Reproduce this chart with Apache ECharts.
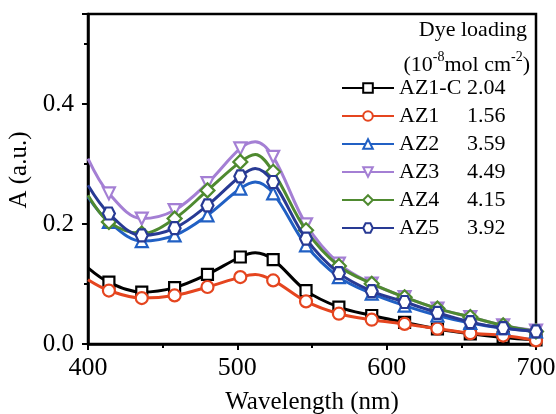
<!DOCTYPE html>
<html>
<head>
<meta charset="utf-8">
<script src="https://cdn.jsdelivr.net/npm/echarts@6/dist/echarts.min.js"></script>
<style>html,body{margin:0;padding:0;background:#fff}#c{width:556px;height:414px}</style>
</head>
<body>
<div id="c"></div>
<script>
var wavelengths = [400, 414, 436, 458, 480, 502, 512, 524, 546, 568, 590, 612, 634, 656, 678, 700];
var noMarkerAt = [400, 512];
var names = ['AZ1-C', 'AZ1', 'AZ2', 'AZ3', 'AZ4', 'AZ5'];
var loadings = ['2.04', '1.56', '3.59', '4.49', '4.15', '3.92'];
var az1c = [0.127, 0.103, 0.0865, 0.094, 0.116, 0.145, 0.152, 0.1405, 0.089, 0.0615, 0.0475, 0.036, 0.025, 0.017, 0.011, 0.007];
var az1  = [0.107, 0.089, 0.0765, 0.081, 0.095, 0.1115, 0.116, 0.106, 0.071, 0.0505, 0.0405, 0.0335, 0.0255, 0.018, 0.014, 0.006];
var az2  = [0.245, 0.2035, 0.1715, 0.181, 0.2145, 0.259, 0.270, 0.251, 0.1645, 0.1115, 0.084, 0.064, 0.0475, 0.035, 0.0265, 0.021];
var az3  = [0.309, 0.251, 0.209, 0.223, 0.268, 0.326, 0.337, 0.312, 0.1995, 0.134, 0.1005, 0.078, 0.059, 0.045, 0.031, 0.0225];
var az4  = [0.248, 0.2035, 0.184, 0.209, 0.256, 0.3035, 0.316, 0.287, 0.1895, 0.130, 0.1005, 0.078, 0.059, 0.045, 0.031, 0.021];
var az5  = [0.2645, 0.2175, 0.181, 0.193, 0.231, 0.2795, 0.2925, 0.270, 0.1755, 0.118, 0.088, 0.070, 0.052, 0.0365, 0.0265, 0.021];
var seriesValues = [az1c, az1, az2, az3, az4, az5];
var colors = ['#000000', '#e5451f', '#2160c4', '#a47fd4', '#4f8a30', '#283a94'];
var symbols = ['rect', 'circle', 'triangle',
  'path://M0,0 L10,0 L5,9 Z',
  'diamond',
  'path://M2.5,0 L7.5,0 L10,4.33 L7.5,8.66 L2.5,8.66 L0,4.33 Z'];
var symbolSizes = [11, 12, 12, 12, 14, 12];
var yTicks = [0, 0.2, 0.4];

var FONT = '"Liberation Serif", "Times New Roman", serif';

var series = names.map(function (n, i) {
  return {
    name: n,
    type: 'line',
    smooth: 0.35,
    symbol: symbols[i],
    symbolSize: symbolSizes[i],
    showAllSymbol: true,
    lineStyle: { color: colors[i], width: 3 },
    itemStyle: { color: '#fff', borderColor: colors[i], borderWidth: 2.2 },
    emphasis: { disabled: true },
    z: 2 + i,
    data: wavelengths.map(function (w, k) {
      var item = { value: [w, seriesValues[i][k]] };
      if (noMarkerAt.indexOf(w) >= 0) item.symbol = 'none';
      return item;
    })
  };
});

var chart = echarts.init(document.getElementById('c'), null, { renderer: 'canvas' });
chart.setOption({
  animation: false,
  backgroundColor: '#fff',
  textStyle: { fontFamily: FONT },
  grid: { left: 88, right: 20, top: 14, bottom: 70, containLabel: false, outerBoundsMode: 'none',
    show: true, borderColor: '#000', borderWidth: 2.5, backgroundColor: 'transparent' },
  title: [
    { text: 'Dye loading', right: 24, top: 14, textStyle: { fontFamily: FONT, fontSize: 22, fontWeight: 'normal', color: '#000' } },
    { text: '{n|(10}{s|-8}{n|mol cm}{s|-2}{n|)}', right: 21, top: 45,
      textStyle: { fontWeight: 'normal', rich: {
        n: { fontFamily: FONT, fontSize: 22, fontWeight: 'normal', color: '#000', lineHeight: 26, verticalAlign: 'bottom' },
        s: { fontFamily: FONT, fontSize: 14, fontWeight: 'normal', color: '#000', lineHeight: 26, verticalAlign: 'top', padding: [0, 0, 12, 0] }
      } } }
  ],
  legend: {
    orient: 'vertical', left: 336, top: 72, itemGap: 6,
    itemWidth: 52, itemHeight: 12,
    data: names,
    formatter: function (n) { return '{a|' + n + '}{b|' + loadings[names.indexOf(n)] + '}'; },
    textStyle: { fontFamily: FONT, fontSize: 22, color: '#000', lineHeight: 22,
      rich: { a: { fontFamily: FONT, fontSize: 22, width: 68, color: '#000' }, b: { fontFamily: FONT, fontSize: 22, color: '#000' } } }
  },
  xAxis: {
    type: 'value', min: 400, max: 700, interval: 100,
    name: 'Wavelength (nm)', nameLocation: 'middle', nameGap: 46,
    nameTextStyle: { fontFamily: FONT, fontSize: 25, color: '#000' },
    axisLine: { show: true, onZero: false, lineStyle: { color: '#000', width: 2.5 } },
    axisTick: { show: true, inside: false, length: 6, lineStyle: { color: '#000', width: 2 } },
    minorTick: { show: true, splitNumber: 2, length: 4, lineStyle: { color: '#000', width: 2 } },
    splitLine: { show: false },
    axisLabel: { fontFamily: FONT, fontSize: 26, color: '#000', margin: 11 }
  },
  yAxis: [{
    type: 'value', min: 0, max: 0.55, interval: 0.2,
    name: 'A (a.u.)', nameLocation: 'middle', nameGap: 52,
    nameTextStyle: { fontFamily: FONT, fontSize: 25, color: '#000', padding: [0, 0, 0, 18] },
    axisLine: { show: true, onZero: false, lineStyle: { color: '#000', width: 2.5 } },
    axisTick: { show: true, inside: false, length: 6, lineStyle: { color: '#000', width: 2 } },
    splitLine: { show: false },
    axisLabel: { fontFamily: FONT, fontSize: 25, color: '#000', margin: 14,
      formatter: function (v) { return yTicks.indexOf(Math.round(v * 10) / 10) >= 0 ? v.toFixed(1) : ''; } }
  }, {
    type: 'value', min: 0, max: 0.55, interval: 0.1, position: 'left',
    axisLine: { show: false },
    axisTick: { show: true, inside: false, length: 4, lineStyle: { color: '#000', width: 2 } },
    axisLabel: { show: false },
    splitLine: { show: false }
  }],
  series: series
});
</script>
</body>
</html>
